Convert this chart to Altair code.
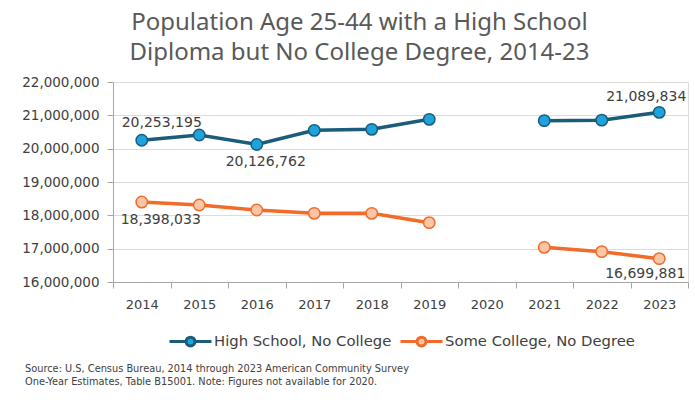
import altair as alt
import pandas as pd

years = [2014, 2015, 2016, 2017, 2018, 2019, 2020, 2021, 2022, 2023]
series_names = ["High School, No College", "Some College, No Degree"]
hs_values = [20253195, 20410000, 20126762, 20550000, 20580000, 20880000, None, 20840000, 20855000, 21089834]
sc_values = [18398033, 18310000, 18160000, 18060000, 18060000, 17780000, None, 17040000, 16910000, 16699881]
y_ticks = [16000000, 17000000, 18000000, 19000000, 20000000, 21000000, 22000000]

line_colors = ["#1a5c7a", "#f26b2a"]
fill_colors = ["#1ea3dc", "#f9c6a6"]

rows = []
for y, h, s in zip(years, hs_values, sc_values):
    rows.append({"year": y, "series": series_names[0], "value": h})
    rows.append({"year": y, "series": series_names[1], "value": s})
df = pd.DataFrame(rows)

x_enc = alt.X("year:O", scale=alt.Scale(domain=years, paddingInner=0, paddingOuter=0),
              axis=alt.Axis(title=None, labelAngle=0, tickBand="extent",
                            labelFontSize=13, labelColor="#404040", labelFont="DejaVu Sans",
                            tickSize=6, tickColor="#a6a6a6", domainColor="#a6a6a6",
                            labelPadding=10, grid=False))
y_enc = alt.Y("value:Q", scale=alt.Scale(domain=[16000000, 22000000], nice=False, zero=False),
              axis=alt.Axis(title=None, values=y_ticks, labelExpr="format(datum.value, ',')",
                            labelFontSize=13.5, labelColor="#404040", labelFont="DejaVu Sans",
                            tickSize=6, tickColor="#a6a6a6", domainColor="#a6a6a6",
                            gridColor="#dcdcdc", labelPadding=8))

legend = alt.Legend(title=None, orient="none", direction="horizontal", legendX=55, legendY=237,
                    symbolType="M-1,0L-0.21,0M0.21,0L1,0M-0.21,0A0.21,0.21 0 1,1 0.21,0A0.21,0.21 0 1,1 -0.21,0Z",
                    symbolSize=1764, symbolStrokeWidth=3, labelFontSize=14.8, labelFont="DejaVu Sans",
                    labelColor="#404040", columnPadding=2, labelOffset=1, labelLimit=0)

stroke_scale = alt.Scale(domain=series_names, range=line_colors)
fill_scale = alt.Scale(domain=series_names, range=fill_colors)

base = alt.Chart(df).encode(x=x_enc, y=y_enc)

lines = base.transform_filter("isValid(datum.value)").transform_calculate(
    seg="datum.year < 2020 ? 'a' : 'b'"
).mark_line(strokeWidth=3.5).encode(
    stroke=alt.Stroke("series:N", scale=stroke_scale, legend=legend),
    detail="seg:N",
)

points = base.transform_filter("isValid(datum.value)").mark_point(
    filled=True, size=130, strokeWidth=1.5, opacity=1
).encode(
    stroke=alt.Stroke("series:N", scale=stroke_scale, legend=legend),
    fill=alt.Fill("series:N", scale=fill_scale, legend=legend),
)

def label_layer(year, series, dx, dy):
    return base.transform_filter(
        (alt.datum.year == year) & (alt.datum.series == series)
    ).mark_text(font="DejaVu Sans", fontSize=14, color="#404040", dx=dx, dy=dy).encode(
        text=alt.Text("value:Q", format=",")
    )

labels = [
    label_layer(2014, series_names[0], 20, -17),
    label_layer(2016, series_names[0], 9, 18),
    label_layer(2014, series_names[1], 19, 18),
    label_layer(2023, series_names[0], -13, -15),
    label_layer(2023, series_names[1], -14, 15),
]

source = alt.Chart(alt.Data(values=[{}])).mark_text(
    font="DejaVu Sans", fontSize=9.8, color="#404040", align="left", baseline="middle", lineHeight=13
).encode(
    x=alt.value(-88), y=alt.value(287),
    text=alt.value(["Source: U.S, Census Bureau, 2014 through 2023 American Community Survey",
                    "One-Year Estimates, Table B15001.  Note:  Figures not available for 2020."]),
)

chart = alt.layer(lines, points, *labels, source).properties(
    width=575, height=200,
    autosize=alt.AutoSizeParams(type="none"),
    padding={"left": 113, "top": 82, "right": 7, "bottom": 118},
    title=alt.TitleParams(
        text=["Population Age 25-44 with a High School", "Diploma but No College Degree, 2014-23"],
        font="Noto Sans", fontSize=24, fontWeight="normal", color="#595959",
        lineHeight=30, anchor="middle", dx=-41, offset=10,
    ),
).configure_view(stroke=None).configure(background="white")

chart.save("out.html", embed_options={"renderer": "svg", "actions": False})
